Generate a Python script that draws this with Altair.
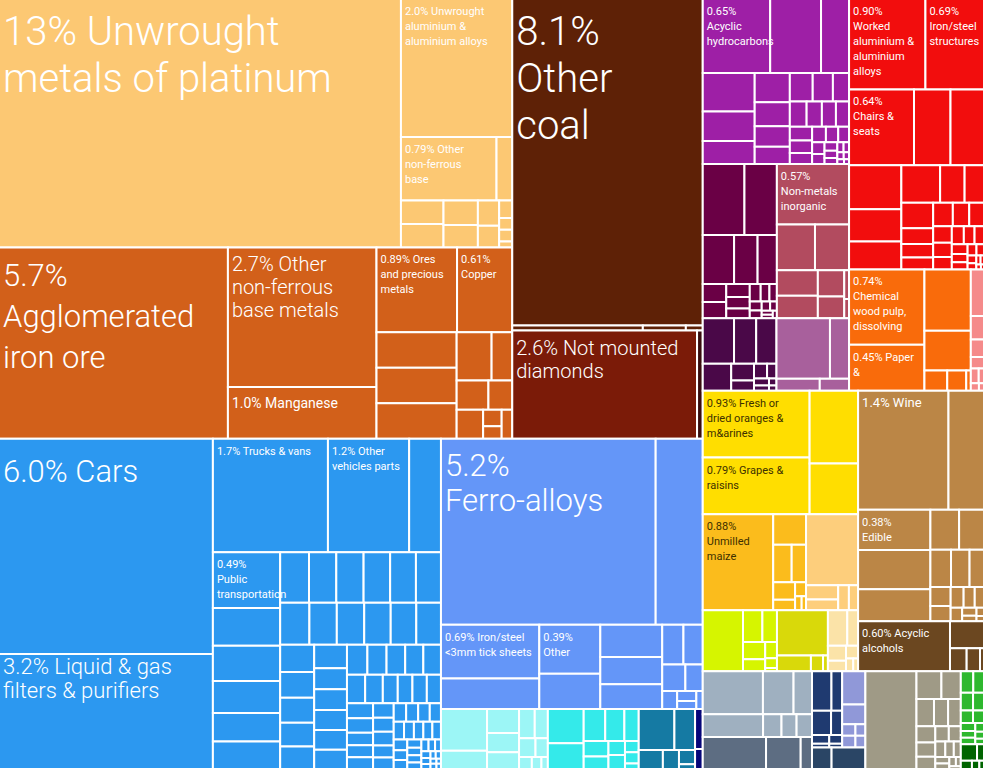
import altair as alt
import pandas as pd

W, H = 983, 768
PHI = (1 + 5 ** 0.5) / 2
FONT = "Roboto"

# ---------------- colours ----------------
C = dict(
    peach="#fcc873", ores="#d2601a", coal="#5e2106", diam="#7b1b08", dstone="#3a0d0d",
    blue="#2c98f0", lblue="#6496f8", lcyan="#9cf6f6", cyan="#34eaea", teal="#157aa3", navy="#06067a",
    mag="#9e1fa6", dmag="#6a0045", rose="#b24b5f", dpurp="#4a0848", lav="#a8609c",
    red="#f20d0d", paper="#f96b0b", pink="#f58a8a",
    yel="#ffde00", maize="#fbbc1c", lor="#fdce7c", lime="#d6f500", olive="#d9d90a", pale="#fbe3a8",
    tan="#bb8646", dbrown="#6b4720",
    lsteel="#9fb0c0", slate="#5d6d82", navy2="#1f3a70", lavb="#9098d8", dslate="#2a4565",
    khaki="#9f9a86", green="#2eb82e", dgreen="#006400",
)
DARK_INK = "#3d3000"

# label styles: font size, line height, vertical padding, weight
STYLE = {
    "xl":    (40, 47, 14, 300),
    "aggl":  (31, 41, 15, 300),
    "cars":  (31, 35, 19, 300),
    "ferro": (31, 35, 13, 300),
    "filt":  (22, 24, 3, 300),
    "m":     (20, 23, 8, 300),
    "mang":  (14, 16, 10, 400),
    "wine":  (13, 15, 6, 400),
    "s":     (11, 15, 7, 400),
}

# ---------------- tree helpers ----------------
def leaf(v, label="", st="s"):
    return {"t": "leaf", "v": v, "label": label, "st": st}

def norm(x):
    return leaf(x) if isinstance(x, (int, float)) else x

def row(*c):
    return {"t": "row", "c": [norm(x) for x in c]}

def col(*c):
    return {"t": "col", "c": [norm(x) for x in c]}

def sq(*c):
    return {"t": "sq", "c": [norm(x) for x in c]}

def grp(fill, node, ink="white"):
    return {"t": "grp", "fill": C[fill], "ink": ink, "c": [norm(node)]}

# ---------------- values (% of exports) ----------------
BLUE_TAIL = [0.12, 0.115, 0.11, 0.105, 0.1, 0.1, 0.09, 0.088, 0.086, 0.084, 0.082, 0.08,
             0.075, 0.073, 0.071, 0.069, 0.067, 0.065, 0.055, 0.054, 0.053, 0.052, 0.051, 0.05,
             0.042, 0.041, 0.04, 0.039, 0.038, 0.037, 0.032, 0.031, 0.03, 0.029, 0.028, 0.027,
             0.024, 0.023, 0.022, 0.021, 0.02, 0.019, 0.017, 0.016, 0.015, 0.014, 0.013, 0.012,
             0.011, 0.01, 0.009, 0.008, 0.007, 0.006, 0.005, 0.005, 0.004, 0.004, 0.003, 0.003]
FERRO_TAIL = [0.11, 0.10, 0.08, 0.06, 0.035, 0.025, 0.02, 0.015]
LCYAN_V = [0.25, 0.11, 0.1, 0.08, 0.07, 0.06, 0.05, 0.04, 0.03, 0.02, 0.015, 0.01]
CYAN_V = [0.16, 0.12, 0.09, 0.08, 0.06, 0.05, 0.04, 0.03, 0.03, 0.02, 0.02, 0.01]
TEAL_V = [0.19, 0.11, 0.06, 0.04, 0.03, 0.01]
NAVY_V = [0.04, 0.02]
MAG_TAIL = [0.085, 0.075, 0.06, 0.055, 0.05, 0.046, 0.043, 0.04, 0.036, 0.032, 0.028, 0.025,
            0.022, 0.019, 0.016, 0.014, 0.012, 0.01, 0.008, 0.007, 0.006, 0.005, 0.004, 0.003]
DMAG_TAIL = [0.055, 0.05, 0.04, 0.035, 0.03, 0.025, 0.02, 0.017, 0.014, 0.012, 0.01, 0.008, 0.006, 0.005, 0.004]
DPURP_TAIL = [0.1, 0.05, 0.03, 0.025, 0.018, 0.014, 0.01, 0.007, 0.005]
RED_TAIL = [0.06, 0.05, 0.045, 0.04, 0.035, 0.03, 0.028, 0.025, 0.022, 0.02, 0.017, 0.015,
            0.013, 0.011, 0.009, 0.007, 0.005, 0.004, 0.003, 0.002]
PINK_V = [0.08, 0.04, 0.03, 0.02, 0.015, 0.01, 0.008, 0.005]
MAIZE_TAIL = [0.13, 0.09, 0.07, 0.05, 0.03, 0.02, 0.012, 0.008]
LOR_V = [0.48, 0.06, 0.045, 0.035, 0.03]
LIME_V = [0.32, 0.08, 0.06, 0.05, 0.035, 0.025, 0.015, 0.005]
OLIVE_V = [0.3, 0.07, 0.025, 0.01]
PALE_V = [0.09, 0.05, 0.035, 0.025, 0.02, 0.012, 0.008]
TAN_TAIL = [0.05, 0.04, 0.035, 0.03, 0.025, 0.02, 0.015, 0.01, 0.008, 0.005]
KHAKI_TAIL = [0.09, 0.07, 0.062, 0.05, 0.045, 0.04, 0.035, 0.03, 0.027, 0.024, 0.02, 0.017,
              0.014, 0.012, 0.01, 0.008, 0.006, 0.004]
GREEN_V = [0.035, 0.03, 0.028, 0.025, 0.02, 0.018, 0.015, 0.013, 0.012, 0.01, 0.008, 0.006]
DGREEN_V = [0.035, 0.015, 0.012, 0.008, 0.005]

PLATINUM = grp("peach", row(
    leaf(13.0, "13% Unwrought\nmetals of platinum", "xl"),
    col(leaf(2.0, "2.0% Unwrought\naluminium &\naluminium alloys"),
        row(leaf(0.79, "0.79% Other\nnon-ferrous\nbase"), 0.13),
        row(col(0.13, 0.13), col(0.11, 0.10), col(0.07, 0.06), col(0.03, 0.02, 0.02, 0.01)))))

ORES = grp("ores", row(
    leaf(5.7, "5.7%\nAgglomerated\niron ore", "aggl"),
    col(leaf(2.7, "2.7% Other\nnon-ferrous\nbase metals", "m"), leaf(1.0, "1.0% Manganese", "mang")),
    col(row(leaf(0.89, "0.89% Ores\nand precious\nmetals"), leaf(0.61, "0.61%\nCopper")),
        row(col(0.37, 0.37, 0.37),
            col(row(0.22, 0.13), row(0.12, 0.09), row(0.1, col(0.04, 0.03), 0.04))))))

COAL = grp("coal", col(leaf(8.1, "8.1%\nOther\ncoal", "xl"), row(0.085, 0.028, 0.011)))
DIAMONDS = grp("diam", row(leaf(2.6, "2.6% Not mounted\ndiamonds", "m"), grp("dstone", 0.08)))

VEHICLES = grp("blue", row(
    col(leaf(6.0, "6.0% Cars", "cars"), leaf(3.2, "3.2% Liquid & gas\nfilters & purifiers", "filt")),
    col(row(leaf(1.7, "1.7% Trucks & vans"), leaf(1.2, "1.2% Other\nvehicles parts"), 0.47),
        row(col(leaf(0.49, "0.49%\nPublic\ntransportation"), 0.33, 0.31, 0.28, 0.25, 0.24),
            col(row(0.19, 0.18, 0.18, 0.175, 0.17, 0.165),
                row(0.16, 0.15, 0.15, 0.145, 0.14, 0.135),
                sq(*BLUE_TAIL))))))

FERRO = grp("lblue", col(
    row(leaf(5.2, "5.2%\nFerro-alloys", "ferro"), 1.14),
    row(col(leaf(0.69, "0.69% Iron/steel\n<3mm tick sheets"), 0.39),
        col(leaf(0.39, "0.39%\nOther"), 0.28),
        col(0.26, 0.22, 0.2),
        sq(*FERRO_TAIL))))
CYANS = row(grp("lcyan", sq(*LCYAN_V)), grp("cyan", sq(*CYAN_V)),
            grp("teal", sq(*TEAL_V)), grp("navy", sq(*NAVY_V)))

MAGENTA = grp("mag", col(
    row(leaf(0.65, "0.65%\nAcyclic\nhydrocarbons"), 0.49, 0.27),
    row(col(0.26, 0.2, 0.155), col(0.134, 0.11, 0.093, 0.079), sq(*MAG_TAIL))))
DMAG = grp("dmag", col(row(0.386, 0.30), row(0.2, 0.15, 0.123), sq(*DMAG_TAIL)))
ROSE = grp("rose", col(leaf(0.57, "0.57%\nNon-metals\ninorganic"), row(0.227, 0.203),
                       row(col(0.136, 0.12), col(0.09, 0.075), col(0.018, 0.012))))
DPURP = grp("dpurp", col(row(0.185, 0.131, 0.12), sq(*DPURP_TAIL)))
LAV = grp("lav", col(row(0.42, 0.15), row(0.068, 0.046)))
CHEM = col(MAGENTA, row(DMAG, ROSE), row(DPURP, LAV))

RED = grp("red", col(
    row(leaf(0.90, "0.90%\nWorked\naluminium &\naluminium\nalloys"),
        leaf(0.69, "0.69%\nIron/steel\nstructures")),
    row(leaf(0.64, "0.64%\nChairs &\nseats"), 0.36, 0.33),
    row(col(0.30, 0.22, 0.19),
        col(row(0.19, 0.12, 0.095), row(col(0.105, 0.066, 0.055, 0.05), sq(*RED_TAIL))))))
PAPER = grp("paper", row(
    col(leaf(0.74, "0.74%\nChemical\nwood pulp,\ndissolving"), leaf(0.45, "0.45% Paper\n&")),
    col(0.37, 0.24, row(0.06, 0.05, 0.012))))
PINK = grp("pink", sq(*PINK_V))
REDPAPER = col(RED, row(PAPER, PINK))

YELLOW = col(
    grp("yel", row(col(leaf(0.93, "0.93% Fresh or\ndried oranges &\nm&arines"),
                       leaf(0.79, "0.79% Grapes &\nraisins")),
                   col(0.46, 0.32)), DARK_INK),
    row(grp("maize", row(leaf(0.88, "0.88%\nUnmilled\nmaize"), sq(*MAIZE_TAIL)), DARK_INK),
        grp("lor", sq(*LOR_V))),
    row(grp("lime", sq(*LIME_V)), grp("olive", sq(*OLIVE_V)), grp("pale", sq(*PALE_V))))

TAN = grp("tan", col(
    row(leaf(1.4, "1.4% Wine", "wine"), 0.55),
    row(col(leaf(0.38, "0.38%\nEdible"), 0.37, 0.3),
        col(row(0.15, 0.13), row(0.1, 0.09, 0.07), sq(*TAN_TAIL))),
    grp("dbrown", row(leaf(0.6, "0.60% Acyclic\nalcohols"), col(0.12, row(0.05, 0.04, 0.012))))))

BOTTOM = row(
    col(grp("lsteel", col(row(0.336, 0.171, 0.103), row(0.18, 0.055, 0.045, 0.046))),
        grp("slate", row(0.263, 0.144, 0.047))),
    col(row(grp("navy2", col(row(0.1, 0.055), row(0.06, 0.035), row(0.02, 0.015), row(0.008, 0.006))),
            grp("lavb", col(0.1, 0.06, row(0.02, 0.015), row(0.02, 0.015)))),
        grp("dslate", row(0.055, 0.095))),
    grp("khaki", row(0.65, sq(*KHAKI_TAIL))),
    col(grp("green", sq(*GREEN_V)), grp("dgreen", sq(*DGREEN_V))))

LEFT = col(row(col(PLATINUM, ORES), col(COAL, DIAMONDS)),
           row(VEHICLES, col(FERRO, CYANS)))
RIGHT = col(row(CHEM, REDPAPER), row(YELLOW, TAN), BOTTOM)
ROOT = row(LEFT, RIGHT)

# ---------------- layout (computed from values) ----------------
def val(n):
    return n["v"] if n["t"] == "leaf" else sum(val(c) for c in n["c"])

def place(n, x0, y0, x1, y1, fill, ink, out):
    t = n["t"]
    if t == "leaf":
        out.append(dict(x0=x0, y0=y0, x1=x1, y1=y1, fill=fill, ink=ink,
                        label=n["label"], st=n["st"], v=n["v"]))
    elif t == "grp":
        place(n["c"][0], x0, y0, x1, y1, n["fill"], n["ink"], out)
    elif t in ("row", "col"):
        tot = sum(val(c) for c in n["c"])
        p = x0 if t == "row" else y0
        for c in n["c"]:
            f = val(c) / tot
            if t == "row":
                q = p + (x1 - x0) * f
                place(c, p, y0, q, y1, fill, ink, out)
            else:
                q = p + (y1 - y0) * f
                place(c, x0, p, x1, q, fill, ink, out)
            p = q
    else:
        squarify(sorted(n["c"], key=val, reverse=True), x0, y0, x1, y1, fill, ink, out)

def squarify(nodes, x0, y0, x1, y1, fill, ink, out):
    value = sum(val(c) for c in nodes)
    i0 = i1 = 0
    n = len(nodes)
    while i0 < n:
        dx, dy = x1 - x0, y1 - y0
        sumv = val(nodes[i1]); i1 += 1
        minv = maxv = sumv
        alpha = max(dy / dx, dx / dy) / (value * PHI)
        beta = sumv * sumv * alpha
        minr = max(maxv / beta, beta / minv)
        while i1 < n:
            nv = val(nodes[i1])
            s2 = sumv + nv
            mn, mx = min(minv, nv), max(maxv, nv)
            beta = s2 * s2 * alpha
            newr = max(mx / beta, beta / mn)
            if newr > minr:
                break
            sumv, minv, maxv, minr = s2, mn, mx, newr
            i1 += 1
        rowset = nodes[i0:i1]
        if dx < dy:
            ny = y0 + dy * sumv / value
            xx = x0
            for c in rowset:
                w = dx * val(c) / sumv
                place(c, xx, y0, xx + w, ny, fill, ink, out)
                xx += w
            y0 = ny
        else:
            nx = x0 + dx * sumv / value
            yy = y0
            for c in rowset:
                h = dy * val(c) / sumv
                place(c, x0, yy, nx, yy + h, fill, ink, out)
                yy += h
            x0 = nx
        value -= sumv
        i0 = i1

cells = []
place(ROOT, -1, -1, W + 1, H + 1, C["peach"], "white", cells)
df = pd.DataFrame(cells)
labels = df[df["label"] != ""]

xs = alt.Scale(domain=[0, W], range=[0, W], nice=False, zero=False)
ys = alt.Scale(domain=[0, H], range=[0, H], nice=False, zero=False)

rects = alt.Chart(df).mark_rect(stroke="white", strokeWidth=2).encode(
    x=alt.X("x0:Q", scale=xs, axis=None),
    x2="x1:Q",
    y=alt.Y("y0:Q", scale=ys, axis=None),
    y2="y1:Q",
    color=alt.Color("fill:N", scale=None, legend=None),
)

layers = [rects]
for st, sub in labels.groupby("st"):
    fs, lh, dy, wt = STYLE[st]
    layers.append(
        alt.Chart(sub).mark_text(
            align="left", baseline="top", dx=4, dy=dy,
            font=FONT, fontSize=fs, fontWeight=wt, lineHeight=lh, lineBreak="\n",
        ).encode(
            x=alt.X("x0:Q", scale=xs, axis=None),
            y=alt.Y("y0:Q", scale=ys, axis=None),
            text="label:N",
            color=alt.Color("ink:N", scale=None, legend=None),
        )
    )

chart = alt.layer(*layers).properties(
    width=W, height=H, padding=0, autosize="none", background="white"
).configure_view(strokeWidth=0)

chart.save("out.html", embed_options={"renderer": "svg", "actions": False})
